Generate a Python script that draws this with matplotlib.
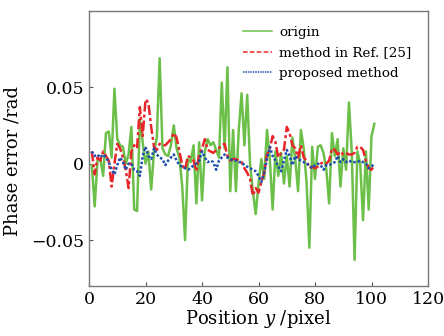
import numpy as np
import matplotlib
matplotlib.use("Agg")
import matplotlib.pyplot as plt
from matplotlib.ticker import FixedLocator

position = list(range(1, 102))

origin = [
    -0.001, -0.028, 0.002, 0.003, -0.008, 0.020, 0.021, 0.004, 0.049, 0.016,
    0.012, 0.011, 0.000, 0.006, 0.024, -0.030, -0.031, 0.029, 0.014, 0.000,
    0.008, -0.017, 0.008, 0.017, 0.069, 0.010, 0.006, 0.005, 0.012, 0.025,
    0.010, 0.004, -0.015, -0.050, 0.003, 0.001, 0.012, -0.026, 0.014, -0.024,
    0.008, 0.016, 0.012, 0.014, 0.009, 0.004, 0.053, 0.010, 0.063, -0.018,
    0.022, -0.018, 0.022, 0.046, 0.012, 0.045, 0.000, -0.018, -0.033, -0.013,
    0.003, -0.010, 0.022, 0.003, -0.030, 0.008, -0.008, 0.007, -0.013, 0.005,
    -0.015, 0.017, 0.003, -0.018, 0.022, 0.010, -0.012, -0.055, 0.011, -0.010,
    0.011, 0.012, 0.007, -0.004, -0.026, 0.020, 0.005, 0.016, -0.015, 0.010,
    -0.004, 0.040, 0.008, -0.063, 0.008, 0.000, -0.037, 0.008, -0.030, 0.018,
    0.026,
]

ref25 = [
    0.008, -0.007, 0.004, 0.002, 0.008, 0.005, 0.002, -0.015, 0.000, 0.013,
    0.010, 0.004, -0.004, -0.016, 0.008, 0.012, 0.010, 0.037, 0.018, 0.042,
    0.040, 0.024, 0.011, 0.009, 0.013, 0.012, 0.012, 0.014, 0.016, 0.020,
    0.017, 0.008, -0.001, -0.004, 0.005, 0.004, 0.002, -0.005, 0.006, 0.010,
    0.016, 0.009, 0.008, 0.007, 0.009, 0.010, 0.012, 0.013, 0.005, 0.002,
    0.003, 0.003, 0.002, 0.001, -0.003, -0.006, -0.010, -0.021, -0.016, -0.019,
    -0.012, -0.006, 0.006, 0.010, 0.018, 0.014, 0.004, 0.007, 0.009, 0.024,
    0.020, 0.012, 0.010, 0.004, 0.012, 0.004, 0.002, -0.003, -0.002, -0.003,
    -0.002, 0.000, 0.001, 0.000, 0.002, 0.010, 0.009, 0.006, 0.008, 0.006,
    0.007, 0.006, 0.006, 0.007, 0.011, 0.011, 0.009, 0.002, -0.003, -0.004,
    -0.001,
]

proposed = [
    0.008, 0.005, 0.006, 0.004, 0.006, 0.004, 0.001, -0.004, -0.007, -0.001,
    0.004, 0.001, -0.004, 0.000, 0.000, -0.004, -0.005, -0.008, 0.005, 0.011,
    0.005, 0.003, 0.010, 0.006, 0.004, 0.003, -0.001, 0.002, 0.004, 0.006,
    0.002, -0.001, -0.002, -0.003, -0.004, -0.003, -0.001, 0.000, 0.002, 0.008,
    0.004, 0.001, 0.002, 0.001, -0.004, 0.002, 0.004, 0.006, 0.004, 0.003,
    0.002, 0.002, 0.001, 0.001, -0.001, -0.002, -0.003, -0.004, -0.005, -0.008,
    -0.012, -0.006, 0.003, 0.011, 0.005, 0.002, -0.002, -0.005, 0.002, 0.009,
    0.005, -0.001, 0.005, 0.003, 0.002, 0.001, 0.000, -0.001, -0.003, -0.001,
    0.000, -0.001, -0.004, -0.001, -0.001, 0.000, 0.001, 0.005, 0.001, 0.003,
    0.001, 0.002, 0.001, 0.001, 0.001, 0.002, 0.001, 0.000, -0.003, -0.002,
    0.000,
]

series_labels = ["origin", "method in Ref. [25]", "proposed method"]
x_ticks = [0, 20, 40, 60, 80, 100, 120]
y_ticks = [-0.05, 0, 0.05]
y_tick_labels = ["\u22120.05", "0", "0.05"]

plt.rcParams["font.family"] = ["DejaVu Serif"]
plt.rcParams["mathtext.fontset"] = "dejavuserif"

fig = plt.figure(figsize=(4.44, 3.36), dpi=100)
ax = fig.add_axes([0.2005, 0.149, 0.7635, 0.819])

ax.plot(position, origin, color="#6cc04a", lw=1.8, label=series_labels[0])
ax.plot(position, ref25, color="#e8262a", lw=1.8, ls=(0, (4, 1.2, 1.2, 1.2)),
        label=series_labels[1])
ax.plot(position, proposed, color="#1f4fae", lw=1.8, ls=(0, (1, 0.8)),
        label=series_labels[2])

ax.set_xlim(0, 120)
ax.set_ylim(-0.08, 0.1)
ax.xaxis.set_major_locator(FixedLocator(x_ticks))
ax.yaxis.set_major_locator(FixedLocator(y_ticks))
ax.set_yticklabels(y_tick_labels)
ax.tick_params(direction="in", length=3, width=0.8, colors="#555555",
               labelcolor="black", labelsize=12.5, top=False, right=False)
for s in ax.spines.values():
    s.set_color("#777777")
    s.set_linewidth(1.0)

ax.set_xlabel("Position $\\it{y}$ /pixel", fontsize=13, labelpad=0)
ax.set_ylabel("Phase error /rad", fontsize=13)
ax.yaxis.set_label_coords(-0.198, 0.454)

leg = ax.legend(loc="upper left", bbox_to_anchor=(0.425, 0.98), frameon=False,
                fontsize=9.7, handlelength=2.2, handletextpad=0.5,
                labelspacing=0.57, borderaxespad=0.3)
for h in leg.get_lines():
    h.set_linewidth(1.1)
leg.get_lines()[1].set_linestyle((0, (3, 1.5)))
leg.get_lines()[2].set_linestyle((0, (1, 0.6)))

fig.savefig("out.png", dpi=100)
